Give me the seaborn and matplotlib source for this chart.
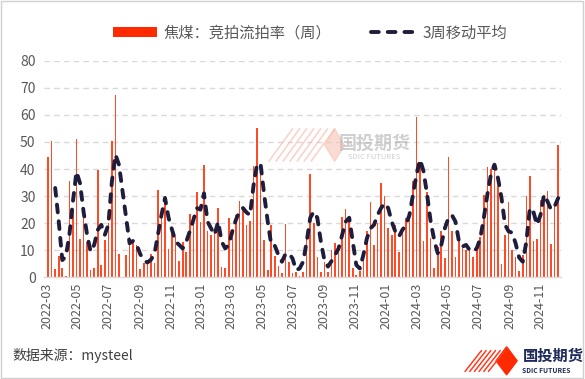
import numpy as np
import pandas as pd
import matplotlib
matplotlib.use("Agg")
import matplotlib.pyplot as plt
from matplotlib.lines import Line2D
from matplotlib.patches import Patch, Rectangle, Polygon
import seaborn as sns

# ---- data ----
start_date = "2022-03-04"
n_weeks = 145

rate = [44.3, 50.2, 3.1, 8.0, 3.6, 0.6, 35.4, 25.0, 50.9, 14.3,
        24.6, 13.0, 2.7, 3.3, 39.8, 4.6, 13.8, 20.0, 50.2, 67.2,
        8.6, 0.0, 8.3, 15.0, 13.8, 12.0, 3.0, 5.2, 6.4, 8.6,
        5.2, 32.3, 25.6, 30.0, 10.5, 18.0, 15.0, 6.0, 13.0, 9.5,
        23.5, 20.6, 31.5, 20.6, 41.6, 17.0, 15.7, 18.0, 25.6, 3.7,
        3.3, 21.9, 14.4, 23.0, 28.3, 25.6, 19.4, 20.9, 41.0, 55.0,
        38.0, 13.8, 2.7, 19.4, 8.0, 4.3, 1.5, 19.6, 5.8, 1.5,
        2.1, 0.6, 2.1, 15.0, 38.3, 20.0, 7.7, 2.1, 5.8, 2.1,
        10.1, 12.7, 9.3, 22.2, 25.2, 22.5, 3.3, 0.9, 2.3, 9.5,
        17.0, 28.0, 12.0, 20.0, 35.0, 30.0, 18.4, 15.7, 19.4, 9.5,
        17.3, 21.9, 24.3, 35.4, 59.1, 41.6, 13.6, 31.7, 14.4, 3.3,
        11.4, 17.3, 7.0, 44.3, 17.3, 7.4, 13.8, 10.7, 10.0, 11.0,
        7.7, 11.4, 15.0, 30.5, 40.6, 40.0, 41.6, 33.8, 4.9, 15.5,
        28.0, 10.1, 7.7, 2.4, 8.3, 30.1, 37.3, 13.6, 14.0, 28.6,
        30.5, 32.0, 12.3, 26.8, 48.8]

ma3 = [np.nan, np.nan, 33.0, 20.6, 6.4, 7.7, 15.7, 28.0, 39.0, 34.8,
       24.3, 15.7, 9.5, 12.0, 17.5, 19.4, 15.7, 19.4, 35.4, 45.3,
       41.6, 32.0, 22.5, 12.6, 13.5, 12.0, 8.6, 6.5, 5.5, 6.5,
       8.5, 15.7, 23.0, 29.3, 22.0, 17.5, 13.2, 12.0, 10.7, 13.2,
       17.0, 21.2, 25.6, 25.0, 31.0, 20.6, 18.1, 15.7, 20.6, 13.2,
       10.7, 12.0, 17.0, 21.2, 24.3, 25.6, 24.0, 23.0, 34.0, 42.0,
       41.6, 30.5, 20.6, 12.0, 11.7, 8.3, 5.8, 8.6, 8.9, 7.0,
       2.7, 3.3, 5.8, 13.2, 22.0, 24.3, 22.0, 13.2, 6.4, 4.0,
       6.0, 8.3, 10.7, 15.7, 20.6, 22.0, 13.2, 4.6, 3.3, 8.3,
       14.4, 18.1, 19.4, 23.0, 25.6, 27.4, 25.6, 20.6, 17.0, 15.0,
       17.5, 19.4, 23.0, 30.5, 37.9, 43.5, 39.1, 30.5, 20.6, 13.8,
       8.9, 12.0, 18.1, 21.9, 23.0, 20.6, 13.2, 11.4, 12.0, 10.1,
       9.5, 10.7, 14.4, 21.9, 30.5, 37.9, 41.6, 36.7, 29.3, 19.4,
       17.0, 16.5, 12.5, 7.3, 5.8, 13.0, 25.6, 24.3, 19.4, 23.0,
       30.5, 28.0, 25.0, 26.2, 29.3]

tick_labels = ["2022-03", "2022-05", "2022-07", "2022-09", "2022-11",
               "2023-01", "2023-03", "2023-05", "2023-07", "2023-09",
               "2023-11", "2024-01", "2024-03", "2024-05", "2024-07",
               "2024-09", "2024-11"]

bar_label = "焦煤：竞拍流拍率（周）"
line_label = "3周移动平均"
source_text = "数据来源：mysteel"

# ---- frame ----
dates = pd.date_range(start=start_date, periods=n_weeks, freq="7D")
df = pd.DataFrame({"pos": np.arange(n_weeks), "rate": rate, "ma3": ma3})

sns.set_theme(style="white")
plt.rcParams["font.family"] = ["Noto Sans CJK SC", "DejaVu Sans"]

BAR_C = "#FF4A28"
LINE_C = "#1E1E3C"
GRID_C = "#D9D9D9"
TXT_C = "#595959"
DASH = [2.0, 2.3]

fig = plt.figure(figsize=(5.85, 3.79), dpi=100)
ax = fig.add_axes([0.075, 0.268, 0.884, 0.572])

sns.barplot(data=df, x="pos", y="rate", native_scale=True, color=BAR_C,
            width=0.45, saturation=1, ax=ax, zorder=2,
            linewidth=0, edgecolor="none")
sns.lineplot(data=df, x="pos", y="ma3", color=LINE_C, linewidth=2.8,
             ax=ax, zorder=3)
ln = ax.lines[-1]
ln.set_dashes(DASH)
ln.set_dash_capstyle("round")
ln.set_solid_capstyle("round")
ln.set_solid_joinstyle("round")

# axes styling
ax.set_ylim(0, 80)
ax.set_yticks(range(0, 81, 10))
ax.set_xlim(-1.2, 144.8)
tick_pos = [(pd.Timestamp(t + "-01") - dates[0]).days / 7.0 for t in tick_labels]
ax.set_xticks(tick_pos)
ax.set_xticklabels(tick_labels, rotation=90, fontsize=9, color=TXT_C)
ax.tick_params(axis="y", labelsize=10, labelcolor=TXT_C, length=0, pad=6)
ax.tick_params(axis="x", length=0, pad=4)
ax.set_xlabel("")
ax.set_ylabel("")
ax.yaxis.grid(True, color=GRID_C, linestyle=(0, (4, 3)), linewidth=1.0, zorder=0)
ax.set_axisbelow(True)
for s in ["top", "right", "left"]:
    ax.spines[s].set_visible(False)
ax.spines["bottom"].set_color(GRID_C)
ax.spines["bottom"].set_linewidth(1.0)

# legend
handles = [Patch(facecolor="#FF2A00", edgecolor="none", label=bar_label),
           Line2D([0], [0], color=LINE_C, linewidth=2.8, dashes=DASH,
                  dash_capstyle="round", label=line_label)]
fig.legend(handles=handles, loc="center", bbox_to_anchor=(0.53, 0.913), ncol=2,
           frameon=False, fontsize=11, handlelength=2.9, handleheight=0.55,
           columnspacing=2.6, handletextpad=0.45, labelcolor=TXT_C)

# watermark
fig.text(0.64, 0.622, "国投期货", fontsize=13, color="#B0B0B0", alpha=0.6,
         ha="center", va="center", fontweight="bold")
fig.text(0.64, 0.585, "SDIC FUTURES", fontsize=5.5, color="#B0B0B0", alpha=0.6,
         ha="center", va="center")
for k in range(7):
    x0 = 0.46 + k * 0.012
    fig.add_artist(Line2D([x0, x0 + 0.04], [0.575, 0.66], color="#F6B8A8",
                          linewidth=1.2, alpha=0.6))
fig.add_artist(Polygon([(0.555, 0.617), (0.572, 0.66), (0.589, 0.617), (0.572, 0.574)],
                       closed=True, color="#F8C4B4", alpha=0.6,
                       transform=fig.transFigure))

# source text
fig.text(0.022, 0.062, source_text, fontsize=10, color="#404040",
         ha="left", va="center")

# bottom-right logo
for k in range(6):
    x0 = 0.795 + k * 0.008
    fig.add_artist(Line2D([x0, x0 + 0.028], [0.02, 0.075], color="#FF3A20",
                          linewidth=1.1))
fig.add_artist(Polygon([(0.848, 0.048), (0.866, 0.085), (0.884, 0.048), (0.866, 0.011)],
                       closed=True, color="#FF2A00", transform=fig.transFigure))
fig.text(0.893, 0.062, "国投期货", fontsize=11, color="#1E2A5A",
         ha="left", va="center", fontweight="bold")
fig.text(0.893, 0.022, "SDIC FUTURES", fontsize=4.8, color="#1E2A5A",
         ha="left", va="center", fontweight="bold")

# outer border
fig.add_artist(Rectangle((0.002, 0.003), 0.995, 0.994, fill=False,
                         edgecolor="#D0D0D0", linewidth=1.0,
                         transform=fig.transFigure))

fig.savefig("out.png", dpi=100)
